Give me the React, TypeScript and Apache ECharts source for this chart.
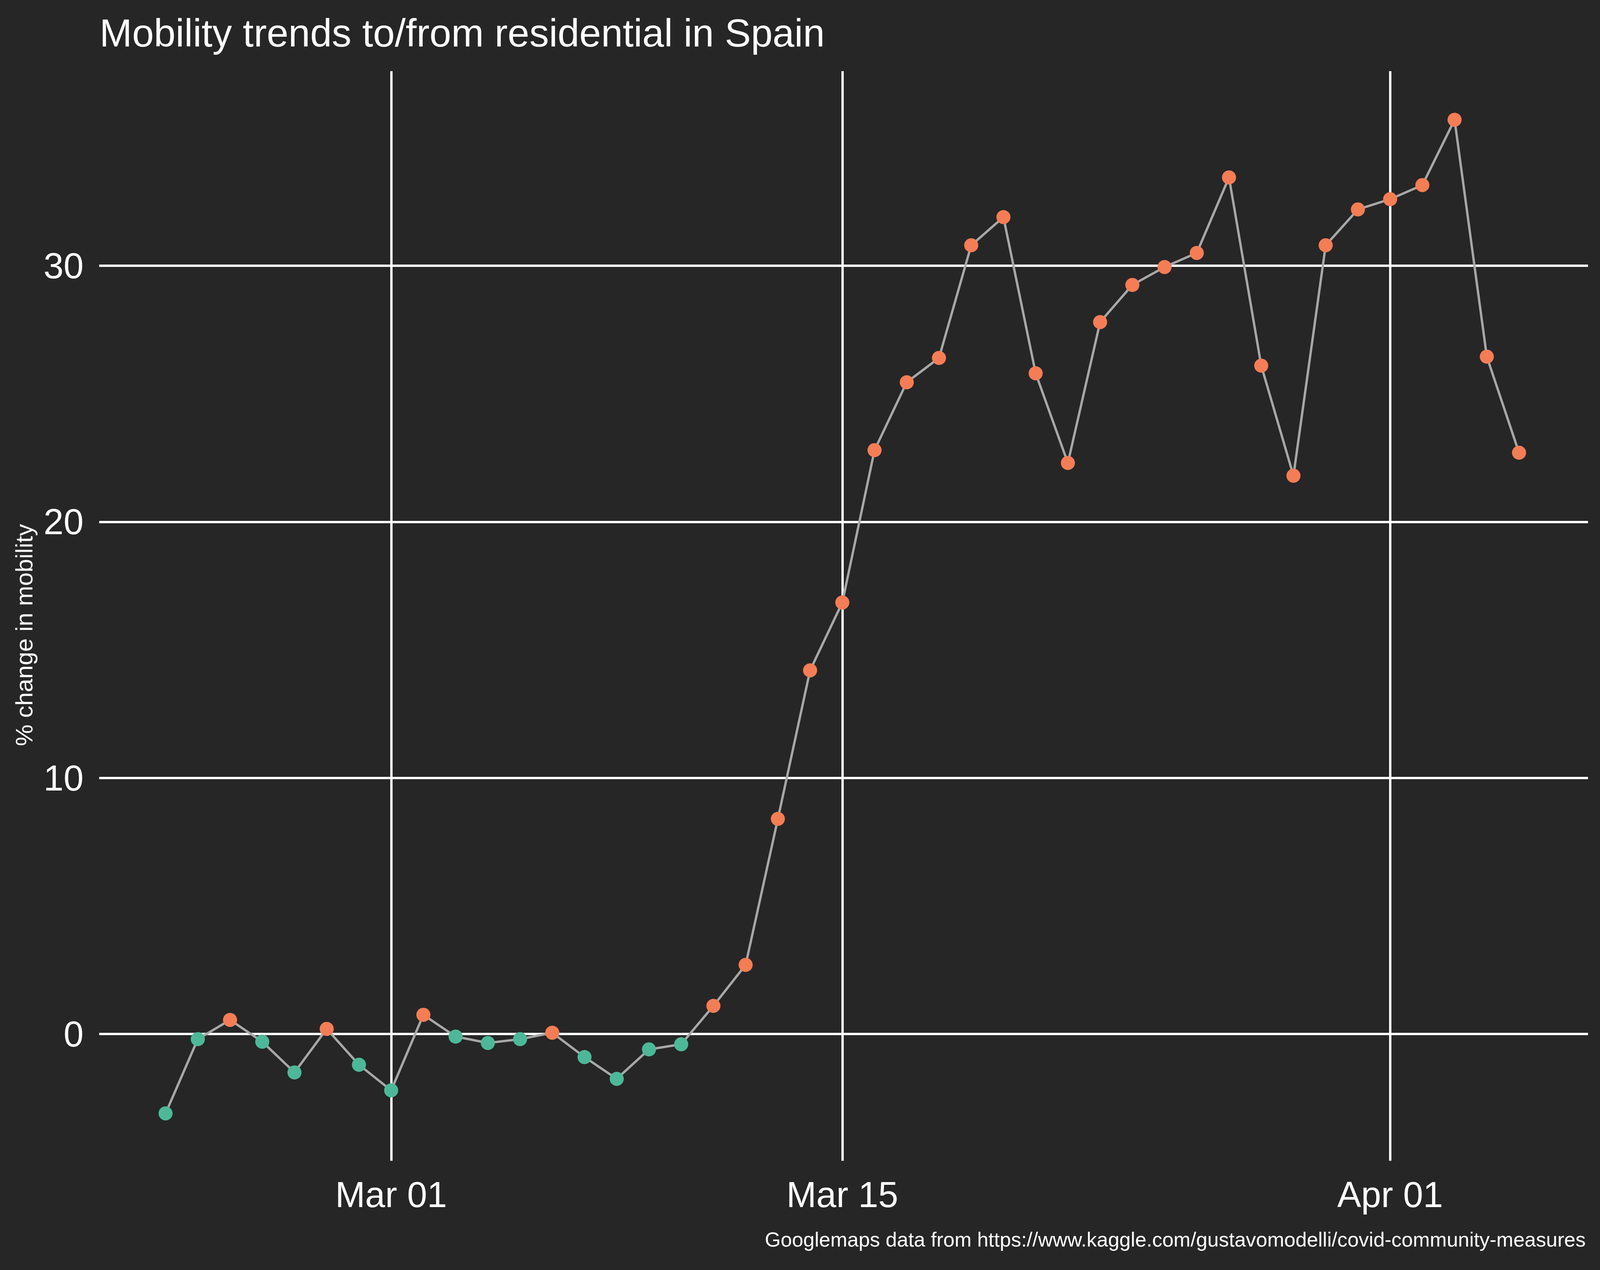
import { useEffect, useRef } from "react";
import * as echarts from "echarts";

const BG = "#262626";
const UP = "#F47D55";
const DOWN = "#4DB897";

// days relative to Mar 01 (Feb 23 = -7 ... Apr 05 = 35)
const firstDay = -7;
const residential = [
  -3.1, -0.2, 0.55, -0.3, -1.5, 0.2, -1.2, -2.2, 0.75, -0.1, -0.35, -0.2, 0.05, -0.9, -1.75, -0.6, -0.4, 1.1,
  2.7, 8.4, 14.2, 16.85, 22.8, 25.45, 26.4, 30.8, 31.9, 25.8, 22.3, 27.8, 29.25, 29.95, 30.5, 33.45, 26.1, 21.8,
  30.8, 32.2, 32.6, 33.15, 35.7, 26.45, 22.7,
];
const xTicks = [0, 14, 31];
const xTickLabels = ["Mar 01", "Mar 15", "Apr 01"];
const yTicks = [0, 10, 20, 30];

export default function App() {
  const ref = useRef<HTMLDivElement>(null);

  useEffect(() => {
    if (!ref.current) return;
    const chart = echarts.init(ref.current, null, { renderer: "svg" });
    const data = residential.map((v, i) => [firstDay + i, v]);

    chart.setOption({
      animation: false,
      backgroundColor: BG,
      textStyle: { fontFamily: "Liberation Sans, Arial, sans-serif" },
      title: {
        text: "Mobility trends to/from residential in Spain",
        left: "6.1%",
        top: "0.9%",
        textStyle: { color: "#ffffff", fontSize: 100, fontWeight: "normal" },
      },
      graphic: [
        {
          type: "text",
          right: "0.9%",
          bottom: "1.6%",
          style: {
            text: "Googlemaps data from https://www.kaggle.com/gustavomodelli/covid-community-measures",
            fill: "#ffffff",
            fontSize: 52,
          },
        },
        {
          type: "text",
          left: "0.75%",
          top: "middle",
          rotation: Math.PI / 2,
          style: { text: "% change in mobility", fill: "#ffffff", fontSize: 62 },
        },
      ],
      grid: { left: "6.2%", right: "0.75%", top: "5.6%", bottom: "8.6%" },
      xAxis: {
        type: "value",
        min: -9.06,
        max: 37.14,
        axisLine: { show: false },
        axisTick: { show: false, customValues: xTicks },
        axisLabel: {
          customValues: xTicks,
          color: "#ffffff",
          fontSize: 92,
          margin: 40,
          formatter: (v: number) => xTickLabels[xTicks.indexOf(v)] ?? "",
        },
        splitLine: { show: true, lineStyle: { color: "#ffffff", width: 6 } },
      },
      yAxis: {
        type: "value",
        min: -4.95,
        max: 37.6,
        axisLine: { show: false },
        axisTick: { show: false, customValues: yTicks },
        axisLabel: { customValues: yTicks, color: "#ffffff", fontSize: 92, margin: 40 },
        splitLine: { show: true, lineStyle: { color: "#ffffff", width: 6 } },
      },
      series: [
        {
          type: "line",
          data,
          symbol: "circle",
          symbolSize: 36,
          lineStyle: { color: "#A8A8A8", width: 6 },
          itemStyle: {
            color: (p: { value: number[] }) => (p.value[1] >= 0 ? UP : DOWN),
            borderWidth: 0,
          },
        },
      ],
    });

    const ro = new ResizeObserver(() => chart.resize());
    ro.observe(ref.current);
    return () => {
      ro.disconnect();
      chart.dispose();
    };
  }, []);

  return <div ref={ref} style={{ position: "fixed", left: 0, top: 0, width: "100vw", height: "100vh" }} />;
}
